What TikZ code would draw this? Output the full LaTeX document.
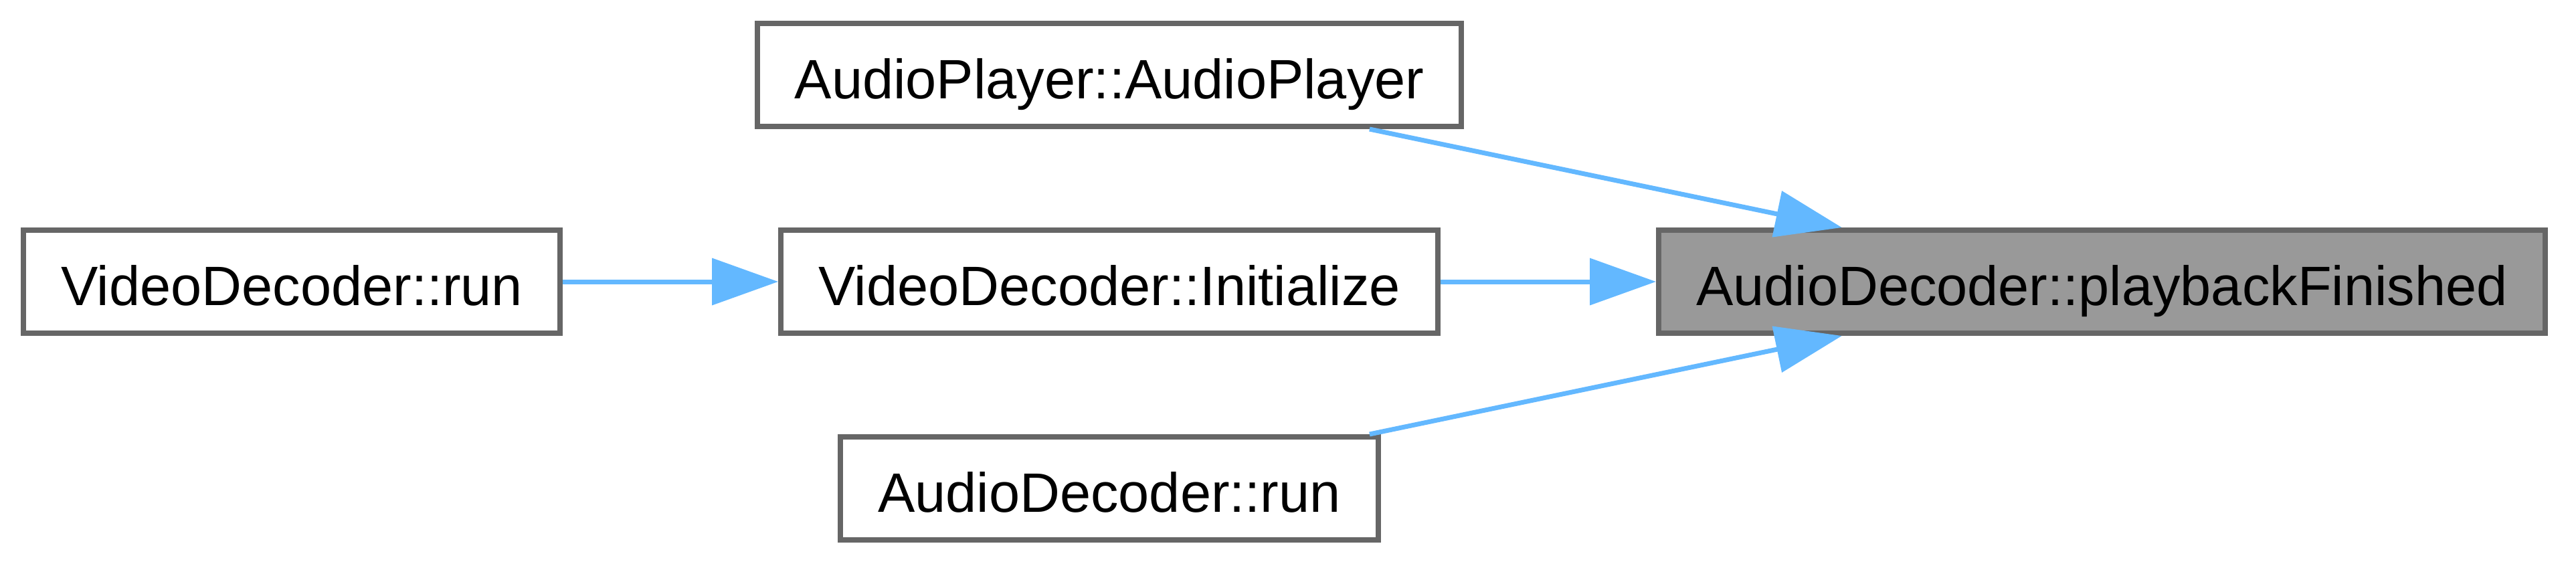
\documentclass[tikz,border=0pt]{standalone}
\usepackage{fontspec}
\setmainfont{Liberation Sans}
\usetikzlibrary{positioning,arrows.meta}
\definecolor{edgeblue}{HTML}{63B8FF}
\definecolor{boxline}{HTML}{666666}
\definecolor{focusbg}{HTML}{999999}

\begin{document}
\begin{tikzpicture}[node distance=14.7mm and 32.2mm,
      funcbox/.style={draw=boxline,line width=0.8mm,fill=white,inner xsep=5.6mm,inner ysep=0pt,minimum height=15.4mm,text height=20.3pt,text depth=0pt,font=\fontsize{23.6pt}{28pt}\selectfont},
      call/.style={-{Triangle[length=9.9mm,width=6.9mm]},edgeblue,line width=0.7mm}]
    \useasboundingbox (0,0) rectangle (385mm,-84.2mm);
    \node[funcbox,anchor=west] (vrun) at (3.1mm,-42.1mm) {VideoDecoder::run};
    \node[funcbox,right=of vrun] (vinit) {VideoDecoder::Initialize};
    \node[funcbox,above=of vinit] (aplayer) {AudioPlayer::AudioPlayer};
    \node[funcbox,below=of vinit] (arun) {AudioDecoder::run};
    \node[funcbox,fill=focusbg,right=of vinit] (pf) {AudioDecoder::playbackFinished};
    \draw[call] (aplayer)--(pf);
    \draw[call] (vinit)--(pf);
    \draw[call] (arun)--(pf);
    \draw[call] (vrun)--(vinit);
  \end{tikzpicture}
\end{document}
